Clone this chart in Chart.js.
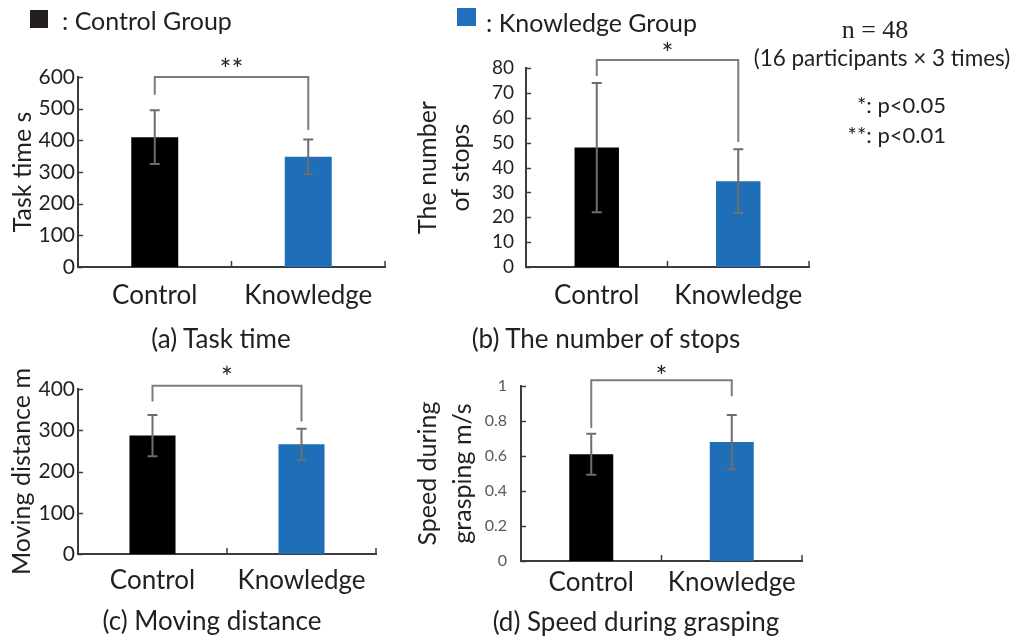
<!DOCTYPE html>
<html><head><meta charset="utf-8">
<script src="https://cdn.jsdelivr.net/npm/chart.js@4.4.1/dist/chart.umd.min.js"></script>
<style>
html,body{margin:0;padding:0;background:#fff;}
#wrap{position:relative;width:1018px;height:639px;overflow:hidden;font-family:Lato,sans-serif;color:#231f20;background:#fff;}
canvas{position:absolute;left:0;top:0;}
.t{position:absolute;white-space:nowrap;line-height:1;}
.c{transform:translate(-50%,-50%);}
.r{transform:translate(-100%,-50%);}
.l{transform:translate(0,-50%);}
.sq{position:absolute;}
</style></head>
<body><div id="wrap">
<canvas id="cA" width="1018" height="639"></canvas>
<canvas id="cB" width="1018" height="639"></canvas>
<canvas id="cC" width="1018" height="639"></canvas>
<canvas id="cD" width="1018" height="639"></canvas>
<div class="sq" style="left:30px;top:10px;width:18px;height:18px;background:#231f20;"></div>
<div class="t l" style="left:62px;top:20px;font-size:25px;">: Control Group</div>
<div class="sq" style="left:457px;top:8px;width:19px;height:18px;background:#1e70bd;"></div>
<div class="t l" style="left:486px;top:22px;font-size:25px;">: Knowledge Group</div>
<div class="t c" style="left:875px;top:30px;font-size:26px;font-family:'Liberation Serif',serif;">n = 48</div>
<div class="t c" style="left:882px;top:58px;font-size:22.5px;">(16 participants × 3 times)</div>
<div class="t r" style="left:946px;top:105px;font-size:22px;">*: p&lt;0.05</div>
<div class="t r" style="left:946px;top:135px;font-size:22px;">**: p&lt;0.01</div>
<div class="t c" style="left:221px;top:338px;font-size:26px;">(a) Task time</div>
<div class="t c" style="left:606px;top:338px;font-size:26px;">(b) The number of stops</div>
<div class="t c" style="left:212px;top:620px;font-size:26px;">(c) Moving distance</div>
<div class="t c" style="left:636px;top:621px;font-size:26px;">(d) Speed during grasping</div>
</div>
<script>
const CATEGORIES = ['Control', 'Knowledge'];

const TASK_TIME = [410, 348];
const TASK_TIME_SD = [85, 55];
const TASK_TIME_TICKS = [0, 100, 200, 300, 400, 500, 600];
const TASK_TIME_TICK_LABELS = ['0', '100', '200', '300', '400', '500', '600'];
const TASK_TIME_BRACKET = [600, 544, 433];   // top, left end, right end
const TASK_TIME_SIG = '**';

const STOPS = [48, 34.5];
const STOPS_SD = [26, 12.8];
const STOPS_TICKS = [0, 10, 20, 30, 40, 50, 60, 70, 80];
const STOPS_TICK_LABELS = ['0', '10', '20', '30', '40', '50', '60', '70', '80'];
const STOPS_BRACKET = [83.2, 76.8, 50.3];
const STOPS_SIG = '*';

const DISTANCE = [287, 266];
const DISTANCE_SD = [50, 37.5];
const DISTANCE_TICKS = [0, 100, 200, 300, 400];
const DISTANCE_TICK_LABELS = ['0', '100', '200', '300', '400'];
const DISTANCE_BRACKET = [408, 370, 321];
const DISTANCE_SIG = '*';

const SPEED = [0.61, 0.68];
const SPEED_SD = [0.117, 0.155];
const SPEED_TICKS = [0, 0.2, 0.4, 0.6, 0.8, 1];
const SPEED_TICK_LABELS = ['0', '0.2', '0.4', '0.6', '0.8', '1'];
const SPEED_BRACKET = [1.033, 0.76, 0.942];
const SPEED_SIG = '*';

const CTRL_COLOR = '#000000';
const KNOW_COLOR = '#1e6eb8';
const AXIS = '#3c3c3c';
const TXT = '#231f20';
const ERR = '#6e6e6e';

const annot = {
  id: 'annot',
  afterDatasetsDraw(chart) {
    const o = chart.options.plugins.annot;
    const {ctx, chartArea: ca} = chart;
    const x = chart.scales.x, y = chart.scales.y;
    ctx.save();
    ctx.strokeStyle = AXIS; ctx.lineWidth = 1.5;
    y.ticks.forEach(t => {
      const py = Math.round(y.getPixelForValue(t.value)) + 0.5;
      ctx.beginPath(); ctx.moveTo(ca.left, py); ctx.lineTo(ca.left + 5, py); ctx.stroke();
    });
    const n = x.ticks.length;
    const half = (x.getPixelForValue(1) - x.getPixelForValue(0)) / 2;
    for (let i = 0; i < n; i++) {
      const px = x.getPixelForValue(i) + half;
      ctx.beginPath(); ctx.moveTo(px, ca.bottom); ctx.lineTo(px, ca.bottom - 6); ctx.stroke();
    }
    const meta = chart.getDatasetMeta(0);
    const vals = chart.data.datasets[0].data;
    ctx.strokeStyle = ERR; ctx.lineWidth = 2;
    o.sd.forEach((s, i) => {
      const px = meta.data[i].x;
      const y1 = y.getPixelForValue(vals[i] + s), y2 = y.getPixelForValue(vals[i] - s);
      ctx.beginPath();
      ctx.moveTo(px, y1); ctx.lineTo(px, y2);
      ctx.moveTo(px - 5, y1); ctx.lineTo(px + 5, y1);
      ctx.moveTo(px - 5, y2); ctx.lineTo(px + 5, y2);
      ctx.stroke();
    });
    const b = o.bracket;
    const xl = meta.data[0].x, xr = meta.data[1].x;
    const yt = y.getPixelForValue(b[0]);
    ctx.strokeStyle = '#7c7c7c'; ctx.lineWidth = 2;
    ctx.beginPath();
    ctx.moveTo(xl, y.getPixelForValue(b[1]));
    ctx.lineTo(xl, yt); ctx.lineTo(xr, yt);
    ctx.lineTo(xr, y.getPixelForValue(b[2]));
    ctx.stroke();
    ctx.fillStyle = TXT;
    ctx.font = '28px Lato';
    ctx.textAlign = 'center'; ctx.textBaseline = 'alphabetic';
    ctx.fillText(o.sig, (xl + xr) / 2, yt + o.starDy);
    ctx.restore();
  }
};

function makeChart(id, p) {
  return new Chart(document.getElementById(id), {
    type: 'bar',
    data: {
      labels: CATEGORIES,
      datasets: [{
        data: p.values,
        backgroundColor: [CTRL_COLOR, KNOW_COLOR],
        borderWidth: 0,
        barPercentage: p.barPct,
        categoryPercentage: 1
      }]
    },
    options: {
      responsive: false, animation: false, devicePixelRatio: 1,
      layout: { padding: { left: p.padL, top: p.top, right: 1018 - p.right, bottom: 639 - p.bottom - p.xH } },
      plugins: {
        legend: { display: false }, tooltip: { enabled: false },
        annot: { sd: p.sd, bracket: p.bracket, sig: p.sig, starDy: p.starDy }
      },
      scales: {
        x: {
          grid: { display: false, drawTicks: false },
          border: { display: true, color: AXIS, width: 2 },
          ticks: { font: { family: 'Lato', size: 26 }, color: TXT, padding: p.xPad, maxRotation: 0 },
          afterFit(s) { s.height = p.xH; }
        },
        y: {
          min: p.ticks[0], max: p.ticks[p.ticks.length - 1],
          afterBuildTicks(s) { s.ticks = p.ticks.map(v => ({ value: v })); },
          grid: { display: false, drawTicks: false },
          border: { display: true, color: AXIS, width: 2 },
          ticks: {
            font: { family: 'Lato', size: p.yFont }, color: p.yColor, padding: p.yPad, autoSkip: false,
            callback: (v, i) => p.tickLabels[i]
          },
          title: {
            display: true, text: p.title, color: TXT,
            font: { family: 'Lato', size: 25, lineHeight: p.titleLH },
            padding: { top: p.titlePad, bottom: 0 }
          },
          afterFit(s) { s.width = p.left - p.padL; }
        }
      }
    },
    plugins: [annot]
  });
}

makeChart('cA', { values: TASK_TIME, sd: TASK_TIME_SD, ticks: TASK_TIME_TICKS, tickLabels: TASK_TIME_TICK_LABELS, bracket: TASK_TIME_BRACKET, sig: TASK_TIME_SIG,
  padL: 0, left: 78, top: 77, right: 385, bottom: 267, xH: 60, xPad: 13, barPct: 0.306,
  yFont: 21, yColor: TXT, yPad: 3, title: 'Task time s', titleLH: 1.2, titlePad: 8, starDy: 3 });

makeChart('cB', { values: STOPS, sd: STOPS_SD, ticks: STOPS_TICKS, tickLabels: STOPS_TICK_LABELS, bracket: STOPS_BRACKET, sig: STOPS_SIG,
  padL: 400, left: 526, top: 68, right: 809, bottom: 267, xH: 60, xPad: 13, barPct: 0.314,
  yFont: 19, yColor: TXT, yPad: 12, title: ['The number', 'of stops'], titleLH: 1.34, titlePad: 10.8, starDy: 3.5 });

makeChart('cC', { values: DISTANCE, sd: DISTANCE_SD, ticks: DISTANCE_TICKS, tickLabels: DISTANCE_TICK_LABELS, bracket: DISTANCE_BRACKET, sig: DISTANCE_SIG,
  padL: 0, left: 78, top: 389, right: 376, bottom: 554, xH: 50, xPad: 11, barPct: 0.309,
  yFont: 21, yColor: TXT, yPad: 3, title: 'Moving distance m', titleLH: 1.2, titlePad: 7, starDy: 2 });

makeChart('cD', { values: SPEED, sd: SPEED_SD, ticks: SPEED_TICKS, tickLabels: SPEED_TICK_LABELS, bracket: SPEED_BRACKET, sig: SPEED_SIG,
  padL: 400, left: 521, top: 386, right: 802, bottom: 561, xH: 50, xPad: 6, barPct: 0.313,
  yFont: 16, yColor: '#595959', yPad: 14, title: ['Speed during', 'grasping m/s'], titleLH: 1.4, titlePad: 10.5, starDy: 7 });
</script>
</body></html>
